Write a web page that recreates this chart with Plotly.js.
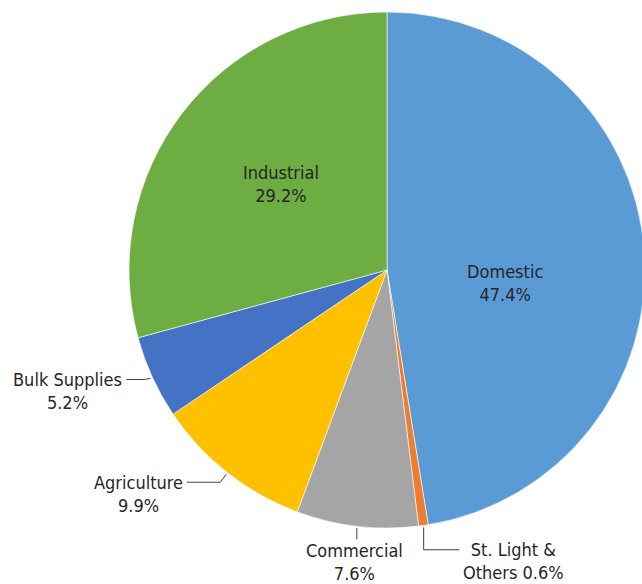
<!DOCTYPE html>
<html>
<head>
<meta charset="utf-8">
<script src="https://cdn.plot.ly/plotly-3.0.1.min.js"></script>
<style>
  html, body { margin: 0; padding: 0; overflow: hidden; background: #fff; }
  #chart { width: 660px; height: 584px; }
</style>
</head>
<body>
<div id="chart"></div>
<script>
// ---- data ----
const categories = ['Domestic', 'St. Light & Others', 'Commercial', 'Agriculture', 'Bulk Supplies', 'Industrial'];
const values = [47.4, 0.6, 7.6, 9.9, 5.2, 29.2];
const labelLine1 = ['Domestic', 'St. Light &', 'Commercial', 'Agriculture', 'Bulk Supplies', 'Industrial'];
const labelLine2Prefix = ['', 'Others ', '', '', '', ''];
const colors = ['#5B9BD5', '#ED7D31', '#A5A5A5', '#FFC000', '#4472C4', '#6DAD42'];

// ---- label placement (style) ----
const labelRadius = [0.46, 1.232, 1.139, 1.297, 1.323, 0.529];
const labelAngleShift = [10.9, -15.4, -0.3, 9.8, 3.8, 1.6];
const leaderMode = ['none', 'right', 'down', 'left', 'left', 'none'];

const W = 660, H = 584, ml = 129, mr = 15, mt = 12, mb = 56;
const pw = W - ml - mr, ph = H - mt - mb;
const R = Math.min(pw, ph) / 2, cx = ml + pw / 2, cy = mt + ph / 2;

const ctx = document.createElement('canvas').getContext('2d');
function hasFont(name) {
  ctx.font = '18px monospace';
  const a = ctx.measureText('Industrial Supplies 29.2%').width;
  ctx.font = '18px "' + name + '", monospace';
  const b = ctx.measureText('Industrial Supplies 29.2%').width;
  return Math.abs(a - b) > 0.5;
}
const condensed = hasFont('DejaVu Sans Condensed');
const FONT = condensed ? 'DejaVu Sans Condensed' : 'DejaVu Sans';
const FS = condensed ? 18 : 16;
const LH = FS * 1.3;
const textColor = '#262626';
ctx.font = FS + 'px "' + FONT + '"';

const total = values.reduce((a, b) => a + b, 0);
let cum = 0;
const mids = values.map(v => { const m = (cum + v / 2) / total * 360; cum += v; return m; });
function pt(deg, r) { const a = deg * Math.PI / 180; return [cx + r * Math.sin(a), cy - r * Math.cos(a)]; }
const px = x => (x - ml) / pw;
const py = y => (mt + ph - y) / ph;

const annotations = [];
const shapes = [];
categories.forEach((c, i) => {
  const line2 = labelLine2Prefix[i] + values[i].toFixed(1) + '%';
  const [bx, by] = pt(mids[i] + labelAngleShift[i], labelRadius[i] * R);
  annotations.push({
    xref: 'paper', yref: 'paper', x: px(bx), y: py(by),
    xanchor: 'center', yanchor: 'middle', showarrow: false, align: 'center',
    text: labelLine1[i] + '<br>' + line2,
    font: { family: FONT, size: FS, color: textColor }
  });
  const bw = Math.max(ctx.measureText(labelLine1[i]).width, ctx.measureText(line2).width);
  const l1y = by - LH / 2;
  const [ex, ey] = pt(mids[i], R + 2);
  let path = null;
  if (leaderMode[i] === 'left') {
    const endX = bx + bw / 2 + 4;
    path = `M ${px(ex)},${py(ey)} L ${px(ex - 6)},${py(l1y)} L ${px(endX)},${py(l1y)}`;
  } else if (leaderMode[i] === 'right') {
    const endX = bx - bw / 2 - 4;
    path = `M ${px(ex)},${py(ey)} L ${px(ex)},${py(l1y)} L ${px(endX)},${py(l1y)}`;
  } else if (leaderMode[i] === 'down') {
    path = `M ${px(ex)},${py(ey)} L ${px(ex)},${py(l1y - 11)}`;
  }
  if (path) shapes.push({ type: 'path', xref: 'paper', yref: 'paper', path: path,
    line: { color: '#404040', width: 1 } });
});

const trace = {
  type: 'pie',
  labels: categories,
  values: values,
  sort: false,
  direction: 'clockwise',
  rotation: 0,
  marker: { colors: colors, line: { color: '#ffffff', width: 0.6 } },
  textinfo: 'none',
  hoverinfo: 'none',
  showlegend: false,
  domain: { x: [0, 1], y: [0, 1] }
};

const layout = {
  width: W, height: H,
  margin: { l: ml, r: mr, t: mt, b: mb, pad: 0 },
  paper_bgcolor: '#ffffff',
  plot_bgcolor: '#ffffff',
  showlegend: false,
  annotations: annotations,
  shapes: shapes,
  font: { family: FONT, size: FS, color: textColor }
};

Plotly.newPlot('chart', [trace], layout, { displayModeBar: false, staticPlot: true });
</script>
</body>
</html>
